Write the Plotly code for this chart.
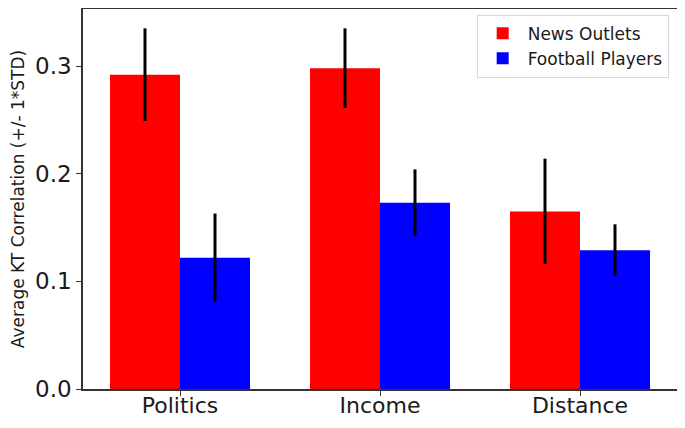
import plotly.graph_objects as go

# values
categories = ["Politics", "Income", "Distance"]
news_mean = [0.292, 0.298, 0.165]
news_std = [0.043, 0.037, 0.049]
football_mean = [0.122, 0.173, 0.129]
football_std = [0.041, 0.031, 0.024]

font_family = "DejaVu Sans"

fig = go.Figure()

fig.add_trace(go.Bar(
    x=categories, y=news_mean, name="News Outlets",
    marker=dict(color="#ff0000", line=dict(width=0)),
    width=0.35,
    error_y=dict(type="data", array=news_std, color="black", thickness=3, width=0),
))
fig.add_trace(go.Bar(
    x=categories, y=football_mean, name="Football Players",
    marker=dict(color="#0000ff", line=dict(width=0)),
    width=0.35,
    error_y=dict(type="data", array=football_std, color="black", thickness=3, width=0),
))

# the page body has an 8px margin, so the figure is sized to fit inside the window
fig.update_layout(
    width=677, height=412,
    margin=dict(l=75, r=8, t=1, b=31),
    barmode="group",
    bargap=0.3,
    bargroupgap=0,
    plot_bgcolor="white",
    paper_bgcolor="white",
    font=dict(family=font_family, color="#1a1a1a"),
    showlegend=True,
    legend=dict(
        x=0.986, y=0.985, xanchor="right", yanchor="top",
        bordercolor="#d8d8d8", borderwidth=1,
        bgcolor="rgba(255,255,255,0.8)",
        font=dict(size=17, family=font_family),
        itemwidth=40,
        tracegroupgap=2,
    ),
)

fig.update_xaxes(
    range=[-0.485, 2.485],
    automargin=False,
    showline=True, linecolor="#333333", linewidth=1.5, mirror=True,
    ticks="outside", ticklen=5, tickcolor="#333333",
    ticklabelstandoff=-9,
    tickfont=dict(size=22, family=font_family),
    showgrid=False,
)
fig.update_yaxes(
    range=[0, 0.353],
    automargin=False,
    tickvals=[0.0, 0.1, 0.2, 0.3],
    ticktext=["0.0", "0.1", "0.2", "0.3"],
    showline=True, linecolor="#333333", linewidth=1.5, mirror=True,
    ticks="outside", ticklen=5, tickcolor="#333333",
    tickfont=dict(size=23, family=font_family),
    showgrid=False, zeroline=False,
    title=dict(text="Average KT Correlation (+/- 1*STD)", font=dict(size=17, family=font_family), standoff=6),
)

fig.write_html("out.html")
